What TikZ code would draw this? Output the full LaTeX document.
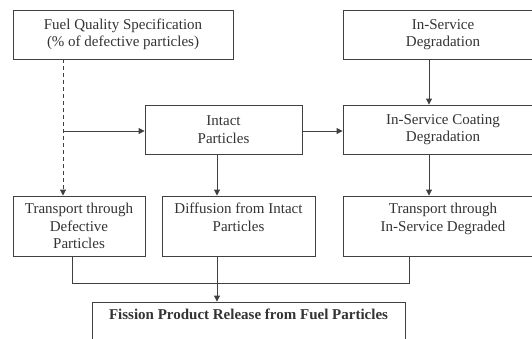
\documentclass[tikz,border=0pt]{standalone}
\usepackage{fontspec}
\setmainfont{Liberation Serif}
\usetikzlibrary{arrows.meta}
\begin{document}
\begin{tikzpicture}[x=1pt,y=-1pt,
  box/.style={draw=black!75, line width=0.9pt, rectangle, align=center, inner sep=0pt,
    font=\fontsize{15}{17.5}\selectfont, text=black!80},
  arr/.style={draw=black!75, line width=0.9pt, -{Triangle[length=6pt,width=6pt]}},
  ln/.style={draw=black!75, line width=0.9pt}]
\useasboundingbox (0,0) rectangle (532,338);
\clip (0,0) rectangle (532,338);
\node[box, minimum width=220, minimum height=49] (fq) at (123,34.5) {Fuel Quality Specification\\(\% of defective particles)};
\node[box, minimum width=200, minimum height=49] (isd) at (443,34.5) {In-Service\\Degradation};
\node[box, minimum width=157, minimum height=49] (ic) at (223.5,129.5) {Intact\\Particles};
\node[box, minimum width=200, minimum height=49] (iscd) at (443,129.5) {In-Service Coating\\Degradation};
\node[box, minimum width=132, minimum height=60] (td) at (79,226) {Transport through\\Defective\\Particles};
\node[box, minimum width=153, minimum height=60] (dfi) at (238.5,226) {Diffusion from Intact\\Particles\\~};
\node[box, minimum width=200, minimum height=60] (tisd) at (443,226) {Transport through\\In-Service Degraded\\~};
\node[box, minimum width=313, minimum height=60] (fp) at (248.5,332) {\textbf{Fission Product Release from Fuel Particles}\\~\\~};
\coordinate (dx) at (63,0);
\coordinate (rx) at (429,0);
\coordinate (mx) at (217,0);
\coordinate (lx) at (72,0);
\coordinate (tx) at (409,0);
\coordinate (by) at (0,283);
\coordinate (hy) at (0,131);
\draw[arr, dash pattern=on 4pt off 3pt] (fq.south -| dx) -- (td.north -| dx);
\draw[arr] (dx |- hy) -- (ic.west |- hy);
\draw[arr] (ic.east |- hy) -- (iscd.west |- hy);
\draw[arr] (isd.south -| rx) -- (iscd.north -| rx);
\draw[arr] (iscd.south -| rx) -- (tisd.north -| rx);
\draw[arr] (ic.south -| mx) -- (dfi.north -| mx);
\draw[arr] (dfi.south -| mx) -- (fp.north -| mx);
\draw[ln] (td.south -| lx) -- (lx |- by) -- (tx |- by) -- (tisd.south -| tx);
\end{tikzpicture}
\end{document}
